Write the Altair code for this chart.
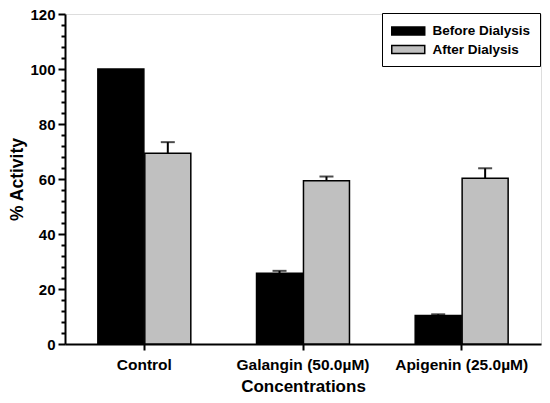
import altair as alt
import pandas as pd

categories = ["Control", "Galangin (50.0µM)", "Apigenin (25.0µM)"]
groups = ["Before Dialysis", "After Dialysis"]
before = [100.0, 25.7, 10.4]
before_err = [0.0, 0.9, 0.4]
after = [69.4, 59.4, 60.3]
after_err = [4.0, 1.5, 3.6]
y_ticks = list(range(0, 121, 4))

rows = []
for cat, b, be, a, ae in zip(categories, before, before_err, after, after_err):
    rows.append({"cat": cat, "group": groups[0], "value": b, "err": be})
    rows.append({"cat": cat, "group": groups[1], "value": a, "err": ae})
df = pd.DataFrame(rows)
df["top"] = df["value"] + df["err"]

FONT = "Liberation Sans"

x_enc = alt.X(
    "cat:N",
    sort=categories,
    title="Concentrations",
    scale=alt.Scale(paddingInner=0, paddingOuter=0),
    axis=alt.Axis(
        tickSize=6, tickWidth=2, tickColor="black", labelPadding=7,
        labelFontSize=15.5, labelFontWeight="bold", labelAngle=0,
        titleFontSize=17, titlePadding=6, titleFontWeight="bold",
        domainColor="black", domainWidth=2, labelColor="black", titleColor="black",
    ),
)
xo_enc = alt.XOffset(
    "group:N", sort=groups, scale=alt.Scale(paddingOuter=0.7, paddingInner=0.02)
)
y_scale = alt.Scale(domain=[0, 120], nice=False)

bars = alt.Chart(df).mark_bar(stroke="black", strokeWidth=1.5).encode(
    x=x_enc,
    xOffset=xo_enc,
    y=alt.Y(
        "value:Q",
        scale=y_scale,
        title="% Activity",
        axis=alt.Axis(
            values=y_ticks,
            tickCount=len(y_ticks) + 5,
            tickSize=7,
            tickDash={"condition": {"test": "datum.value % 20 !== 0", "value": [4, 20]},
                      "value": [20, 0]},
            tickWidth=2, tickColor="black",
            labelExpr="datum.value % 20 === 0 ? datum.label : ''",
            labelOverlap=False, labelBound=False, labelFlush=False,
            labelFontSize=15, labelFontWeight="bold", labelPadding=3, labelColor="black",
            titleFontSize=17.5, titleFontWeight="bold", titlePadding=3, titleColor="black",
            domainColor="black", domainWidth=2, grid=False,
        ),
    ),
    color=alt.Color(
        "group:N",
        sort=groups,
        scale=alt.Scale(domain=groups, range=["#000000", "#c0c0c0"]),
        legend=alt.Legend(
            title=None, orient="none", legendX=317, legendY=-1,
            symbolType="M-1,-0.5H3V0.5H-1Z", symbolSize=272,
            symbolStrokeColor="black", symbolStrokeWidth=1.5, symbolOpacity=1,
            labelFontSize=13.5, labelFontWeight="bold", labelColor="black",
            labelOffset=23.5, labelLimit=300, padding=9, rowPadding=1.5,
            strokeColor="black", fillColor="white",
        ),
    ),
)

errs = alt.Chart(df).transform_filter("datum.err > 0")
err_rules = errs.mark_rule(color="black", strokeWidth=2).encode(
    x=alt.X("cat:N", sort=categories),
    xOffset=xo_enc,
    y=alt.Y("value:Q", scale=y_scale),
    y2="top:Q",
)
err_caps = errs.mark_tick(color="black", thickness=2, size=14, orient="horizontal").encode(
    x=alt.X("cat:N", sort=categories),
    xOffset=xo_enc,
    y=alt.Y("top:Q", scale=y_scale),
)

chart = (
    alt.layer(bars, err_rules, err_caps)
    .properties(
        width=476,
        height=330,
        autosize=alt.AutoSizeParams(type="none"),
        padding={"left": 57, "top": 6, "right": 1, "bottom": 51},
    )
    .configure_view(stroke="black", strokeWidth=2)
    .configure_legend(strokeWidth=1.5)
    .configure(font=FONT)
)

chart.save("out.html", embed_options={"renderer": "svg", "actions": False})
